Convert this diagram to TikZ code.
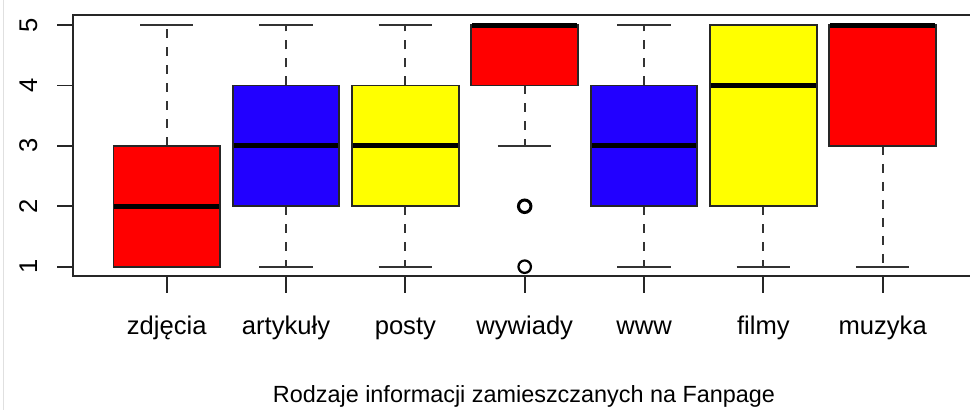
\documentclass[tikz,border=0pt]{standalone}
\usepackage{fontspec}
\setmainfont{Liberation Sans}
\definecolor{rred}{RGB}{255,0,0}
\definecolor{rblue}{RGB}{34,0,255}
\definecolor{ryellow}{RGB}{255,255,0}
\tikzset{
  frameline/.style={line width=1.8pt,black!85},
  whisk/.style={line width=1.8pt,black!80,dash pattern=on 9pt off 9pt},
  capline/.style={line width=1.8pt,black!80},
  boxline/.style={line width=1.8pt,black!85},
  medline/.style={line width=5pt,black},
  outl/.style={draw=black,line width=2.2pt,fill=white,circle,minimum size=12.5pt,inner sep=0pt},
  ticklab/.style={font=\fontsize{25.6}{28}\selectfont,inner sep=0pt},
  titlelab/.style={font=\fontsize{23.4}{26}\selectfont,inner sep=0pt},
}
\begin{document}
\begin{tikzpicture}[x=1pt,y=-1pt]
\useasboundingbox[fill=white] (0,0) rectangle (970,410);
\draw[black!12,line width=0.8pt] (3,0) -- (3,410);
% frame (right side cut off)
\coordinate (fbl) at (73,276);
\coordinate (ftl) at (73,15);
\coordinate (ftr) at (970,15);
\coordinate (fbr) at (970,276);
\draw[frameline] (ftr) -- (ftl) -- (fbl) -- (fbr);
% y axis ticks and labels
\foreach \v in {1,...,5}{
  \pgfmathsetmacro\yy{25+(5-\v)*60.42}
  \coordinate (yt\v) at (57,\yy);
  \coordinate (ya\v) at (73,\yy);
  \draw[frameline] (yt\v) -- (ya\v);
  \node[ticklab,rotate=90,anchor=base] (ylab\v) at (37,\yy) {\v};
}
% boxes: i / lower whisker / q1 / median / q3 / upper whisker / colour / label
\foreach \i/\lo/\qa/\md/\qb/\hi/\col/\lab in {
  1/1/1/2/3/5/rred/zdjęcia,
  2/1/2/3/4/5/rblue/artykuły,
  3/1/2/3/4/5/ryellow/posty,
  4/3/4/5/5/5/rred/wywiady,
  5/1/2/3/4/5/rblue/www,
  6/1/2/4/5/5/ryellow/filmy,
  7/1/3/5/5/5/rred/muzyka}{
  \pgfmathsetmacro\cx{166.7+(\i-1)*119.33}
  \pgfmathsetmacro\ylo{25+(5-\lo)*60.42}
  \pgfmathsetmacro\yqa{25+(5-\qa)*60.42}
  \pgfmathsetmacro\ymd{25+(5-\md)*60.42}
  \pgfmathsetmacro\yqb{25+(5-\qb)*60.42}
  \pgfmathsetmacro\yhi{25+(5-\hi)*60.42}
  \coordinate (lo\i) at (\cx,\ylo);
  \coordinate (qa\i) at (\cx,\yqa);
  \coordinate (qb\i) at (\cx,\yqb);
  \coordinate (hi\i) at (\cx,\yhi);
  \draw[whisk] (qa\i) -- (lo\i);
  \draw[whisk] (qb\i) -- (hi\i);
  \draw[capline] ([xshift=-26.7pt]lo\i) -- ([xshift=26.7pt]lo\i);
  \draw[capline] ([xshift=-26.7pt]hi\i) -- ([xshift=26.7pt]hi\i);
  \draw[boxline,fill=\col] (\cx-53.3,\yqa) rectangle (\cx+53.3,\yqb);
  \draw[medline] (\cx-52.4,\ymd) -- (\cx+52.4,\ymd);
  % x ticks and labels
  \coordinate (xa\i) at (\cx,276);
  \coordinate (xt\i) at (\cx,293);
  \draw[frameline] (xa\i) -- (xt\i);
  \node[ticklab,anchor=base] (xlab\i) at (\cx,334.5) {\lab};
}
% outliers of wywiady
\pgfmathsetmacro\cxf{166.7+3*119.33}
\pgfmathsetmacro\yotwo{25+3*60.42}
\pgfmathsetmacro\yoone{25+4*60.42}
\node[outl,line width=3pt] (out2) at (\cxf,\yotwo) {};
\node[outl] (out1) at (\cxf,\yoone) {};
% axis title
\node[titlelab,anchor=base] (title) at (524,402) {Rodzaje informacji zamieszczanych na Fanpage};
\end{tikzpicture}
\end{document}
